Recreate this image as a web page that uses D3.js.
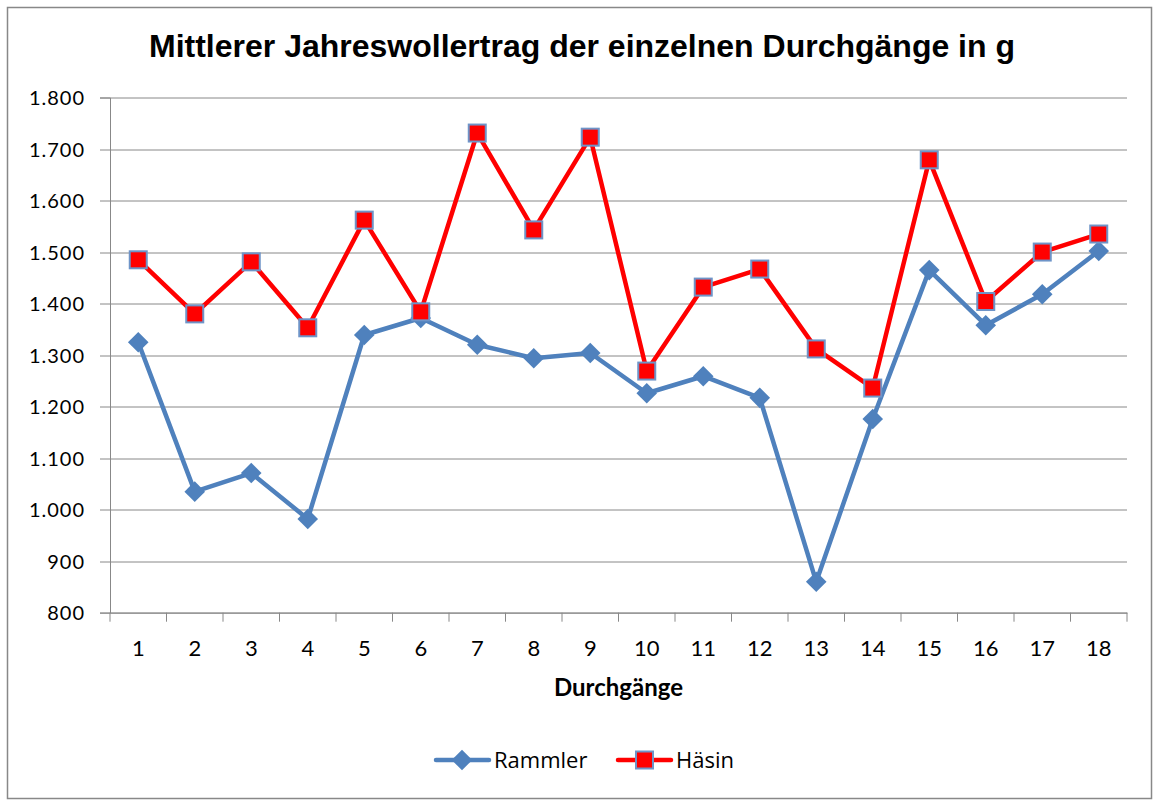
<!DOCTYPE html>
<html>
<head>
<meta charset="utf-8">
<script src="https://cdn.jsdelivr.net/npm/d3@7"></script>
<style>
  body { margin: 0; background: #fff; }
  svg text { font-family: Lato, "Open Sans", sans-serif; }
</style>
</head>
<body>
<script>
var categories = ["1","2","3","4","5","6","7","8","9","10","11","12","13","14","15","16","17","18"];
var rammler = [1325,1035,1071,982,1339,1372,1320,1294,1304,1226,1259,1217,860,1176,1465,1358,1418,1502];
var haesin = [1485,1380,1481,1353,1562,1384,1731,1543,1723,1269,1432,1467,1312,1236,1679,1404,1500,1535];
var yTicks = [800,900,1000,1100,1200,1300,1400,1500,1600,1700,1800];
var titleText = "Mittlerer Jahreswollertrag der einzelnen Durchgänge in g";
var xTitle = "Durchgänge";
var seriesNames = ["Rammler", "Häsin"];

var W = 1155, H = 800;
var margin = { top: 97.5, right: 28, bottom: 187.3, left: 110 };
var width = W - margin.left - margin.right,
    height = H - margin.top - margin.bottom;

var blue = "#4F81BD", red = "#FF0000", grid = "#888888";

var svgRoot = d3.select("body").append("svg")
	.attr("width", W)
	.attr("height", H);

// chart frame
svgRoot.append("rect")
	.attr("x", 7.5).attr("y", 7.5)
	.attr("width", 1144).attr("height", 791)
	.attr("fill", "#fff")
	.attr("stroke", grid).attr("stroke-width", 1.5);

svgRoot.append("text")
	.attr("x", 582).attr("y", 57)
	.attr("text-anchor", "middle")
	.style("font-family", "'Liberation Sans', Arial, sans-serif")
	.style("font-weight", "bold")
	.style("font-size", "32px")
	.text(titleText);

var svg = svgRoot.append("g")
	.attr("transform", "translate(" + margin.left + "," + margin.top + ")");

var x = d3.scaleBand().domain(categories).range([0, width]);
var y = d3.scaleLinear().domain([800, 1800]).range([height, 0]);

// gridlines
svg.selectAll(".grid")
	.data(yTicks)
	.enter().append("line")
	.attr("class", "grid")
	.attr("x1", -10).attr("x2", width)
	.attr("y1", function (d) { return Math.round(y(d)) + 0.5; })
	.attr("y2", function (d) { return Math.round(y(d)) + 0.5; })
	.attr("stroke", grid).attr("stroke-width", 1);

// y axis
var yAxis = svg.append("g")
	.call(d3.axisLeft(y).tickValues(yTicks).tickSize(10)
		.tickFormat(function (d) { return d3.format(",")(d).replace(/,/g, "."); }));
yAxis.select(".domain").attr("stroke", grid);
yAxis.selectAll(".tick line").remove();
yAxis.selectAll("text")
	.attr("x", -25)
	.attr("dy", "0.36em")
	.attr("fill", "#000")
	.style("font-size", "20px")
	.style("letter-spacing", "1px")
	.style("font-family", "Lato, sans-serif");

// x axis
var xAxis = svg.append("g")
	.attr("transform", "translate(0," + height + ")")
	.call(d3.axisBottom(x).tickSize(0));
xAxis.select(".domain").attr("stroke", grid);
xAxis.selectAll("text")
	.attr("y", 43)
	.attr("dy", 0)
	.attr("fill", "#000")
	.style("font-size", "22px")
	.style("font-family", "Lato, sans-serif");
svg.selectAll(".xtick")
	.data(d3.range(categories.length + 1))
	.enter().append("line")
	.attr("x1", function (i) { return i * x.step(); })
	.attr("x2", function (i) { return i * x.step(); })
	.attr("y1", height).attr("y2", height + 9)
	.attr("stroke", grid);

svg.append("text")
	.attr("x", width / 2).attr("y", height + 83)
	.attr("text-anchor", "middle")
	.style("font-weight", "bold")
	.style("font-size", "24px")
	.text(xTitle);

function cx(d, i) { return x(categories[i]) + x.bandwidth() / 2; }

var line = d3.line()
	.x(function (d, i) { return cx(d, i); })
	.y(function (d) { return y(d); });

svg.append("path").datum(rammler)
	.attr("d", line).attr("fill", "none")
	.attr("stroke", blue).attr("stroke-width", 4.5).attr("stroke-linejoin", "round");
svg.append("path").datum(haesin)
	.attr("d", line).attr("fill", "none")
	.attr("stroke", red).attr("stroke-width", 4.5).attr("stroke-linejoin", "round");

var diamond = d3.symbol().type(d3.symbolDiamond2).size(270);

svg.selectAll(".dia")
	.data(rammler)
	.enter().append("path")
	.attr("class", "dia")
	.attr("d", diamond)
	.attr("transform", function (d, i) { return "translate(" + cx(d, i) + "," + y(d) + ")"; })
	.attr("fill", blue);

svg.selectAll(".sq")
	.data(haesin)
	.enter().append("rect")
	.attr("class", "sq")
	.attr("x", function (d, i) { return cx(d, i) - 8.5; })
	.attr("y", function (d) { return y(d) - 8.5; })
	.attr("width", 17).attr("height", 17)
	.attr("fill", red)
	.attr("stroke", "#6e94c8").attr("stroke-width", 2);

// legend
var legend = svgRoot.append("g").attr("transform", "translate(0,760)");
legend.append("line").attr("x1", 436).attr("x2", 489).attr("y1", 0).attr("y2", 0)
	.attr("stroke", blue).attr("stroke-width", 4.5).attr("stroke-linecap", "round");
legend.append("path").attr("d", diamond)
	.attr("transform", "translate(462,0)")
	.attr("fill", blue);
legend.append("text").attr("x", 494).attr("y", 8)
	.style("font-family", "'Open Sans', sans-serif")
	.style("font-size", "22px").text(seriesNames[0]);
legend.append("line").attr("x1", 618).attr("x2", 671).attr("y1", 0).attr("y2", 0)
	.attr("stroke", red).attr("stroke-width", 4.5).attr("stroke-linecap", "round");
legend.append("rect").attr("x", 636).attr("y", -8.5).attr("width", 17).attr("height", 17)
	.attr("fill", red).attr("stroke", "#6e94c8").attr("stroke-width", 2);
legend.append("text").attr("x", 676).attr("y", 8)
	.style("font-family", "'Open Sans', sans-serif")
	.style("font-size", "22px").text(seriesNames[1]);
</script>
</body>
</html>
